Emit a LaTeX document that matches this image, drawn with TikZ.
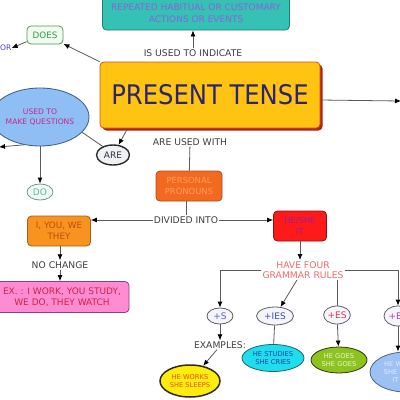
\documentclass[tikz,border=0pt]{standalone}
\usepackage{fontspec}
\setmainfont{DejaVu Sans}
\newfontfamily\titlefont{DejaVu Sans Condensed}
\usetikzlibrary{shapes.geometric,arrows.meta,shadows}
\definecolor{HabitTeal}{HTML}{35C1B3}
\definecolor{HabitEdge}{HTML}{1F7F76}
\definecolor{HabitText}{HTML}{8A62DE}
\definecolor{TenseYellow}{HTML}{FFC312}
\definecolor{TenseEdge}{HTML}{D2541C}
\definecolor{TenseShadow}{HTML}{B0201A}
\definecolor{TenseText}{HTML}{2D2470}
\definecolor{DoesFill}{HTML}{F2FBF2}
\definecolor{DoesEdge}{HTML}{4E9A56}
\definecolor{DoesText}{HTML}{2E9A44}
\definecolor{OrText}{HTML}{5A3CC0}
\definecolor{QBlue}{HTML}{8EBEF3}
\definecolor{QEdge}{HTML}{3C5A86}
\definecolor{QText}{HTML}{C4288E}
\definecolor{AreFill}{HTML}{EEF2F5}
\definecolor{AreEdge}{HTML}{2A2A2A}
\definecolor{AreText}{HTML}{30323C}
\definecolor{DoFill}{HTML}{F1FAF6}
\definecolor{DoEdge}{HTML}{6E9A8C}
\definecolor{DoText}{HTML}{5DB3A0}
\definecolor{LinkGray}{HTML}{3E3E3E}
\definecolor{LineGray}{HTML}{5A5A5A}
\definecolor{PronFill}{HTML}{F26A1F}
\definecolor{PronEdge}{HTML}{B5461A}
\definecolor{PronText}{HTML}{FF9B5E}
\definecolor{IyouFill}{HTML}{F7931E}
\definecolor{IyouEdge}{HTML}{A3601A}
\definecolor{IyouText}{HTML}{C24A12}
\definecolor{ExPink}{HTML}{FF8CD2}
\definecolor{ExEdge}{HTML}{8E3E86}
\definecolor{ExText}{HTML}{D0223E}
\definecolor{HeFill}{HTML}{FF1A1A}
\definecolor{HeEdge}{HTML}{8F1010}
\definecolor{HeText}{HTML}{9C1E8E}
\definecolor{RuleText}{HTML}{F06A6A}
\definecolor{RuleFill}{HTML}{F5F5F9}
\definecolor{RuleEdge}{HTML}{5E5E6A}
\definecolor{SText}{HTML}{5A60C4}
\definecolor{IesText}{HTML}{3E4CB0}
\definecolor{EsText}{HTML}{D23456}
\definecolor{EsbText}{HTML}{A444B6}
\definecolor{WorksFill}{HTML}{FFEC0F}
\definecolor{WorksEdge}{HTML}{2E2A10}
\definecolor{WorksText}{HTML}{E2521E}
\definecolor{StudFill}{HTML}{1FDDEC}
\definecolor{StudEdge}{HTML}{1E6470}
\definecolor{StudText}{HTML}{2242A4}
\definecolor{GoesFill}{HTML}{8DC31F}
\definecolor{GoesEdge}{HTML}{2E3410}
\definecolor{GoesText}{HTML}{EEF2D2}
\definecolor{WatchFill}{HTML}{9DC1F2}
\definecolor{WatchEdge}{HTML}{4E6284}
\definecolor{WatchText}{HTML}{E4E8FF}
\tikzset{
  linknode/.style={
    font=\fontsize{9.2}{10.6}\selectfont,text=LinkGray,
    align=center,inner sep=1pt
  },
  boxnode/.style={
    rounded corners=4pt,line width=0.8pt,inner sep=1pt,
    font=\fontsize{8.8}{11}\selectfont,align=center
  },
  ovnode/.style={
    ellipse,line width=0.8pt,inner sep=0pt,
    font=\fontsize{9}{10.5}\selectfont,align=center
  },
  rulenode/.style={
    ovnode,draw=RuleEdge,fill=RuleFill
  },
  smovnode/.style={
    ovnode,font=\fontsize{6.7}{8.2}\selectfont
  },
  link/.style={draw=LineGray,line width=0.8pt},
  linkarr/.style={link,-{Latex[length=6pt,width=5pt,black]}},
}
\begin{document}
\begin{tikzpicture}[x=1pt,y=-1pt]
  \useasboundingbox (0,0) rectangle (400,400);
  \clip (0,0) rectangle (400,400);
  \fill[white] (0,0) rectangle (400,400);
  % top of the map
  \node[boxnode,draw=HabitEdge,fill=HabitTeal,text=HabitText,font=\fontsize{9}{11.5}\selectfont,
        minimum width=187pt,minimum height=34pt] (habit) at (196,13) {REPEATED HABITUAL OR CUSTOMARY\\ACTIONS OR EVENTS};
  \node[linknode] (indicate) at (193,53) {IS USED TO INDICATE};
  \node[boxnode,draw=TenseEdge,fill=TenseYellow,text=TenseText,minimum width=220pt,minimum height=66pt,
        font=\titlefont\fontsize{27}{30}\selectfont,
        drop shadow={shadow xshift=2.5pt,shadow yshift=-2.5pt,fill=TenseShadow,opacity=1}] (tense) at (210,95) {PRESENT TENSE};
  \coordinate (rightend) at (401,101);
  % questions branch
  \node[boxnode,draw=DoesEdge,fill=DoesFill,text=DoesText,minimum width=36pt,minimum height=18pt] (does) at (45,35) {DOES};
  \node[linknode,text=OrText,font=\fontsize{7.6}{9}\selectfont,inner sep=0pt,anchor=west] (or) at (0,48) {OR};
  \node[ovnode,draw=QEdge,fill=QBlue,text=QText,font=\fontsize{7.6}{9.4}\selectfont,
        minimum width=98pt,minimum height=58pt] (questions) at (40,117) {USED TO\\MAKE QUESTIONS};
  \coordinate (qleft) at (-1,147);
  \node[ovnode,draw=AreEdge,fill=AreFill,text=AreText,line width=1.4pt,
        minimum width=33pt,minimum height=20pt] (are) at (113,155) {ARE};
  \node[ovnode,draw=DoEdge,fill=DoFill,text=DoText,minimum width=26pt,minimum height=16pt] (do) at (40,192) {DO};
  % pronouns branch
  \node[linknode] (usedwith) at (190,142) {ARE USED WITH};
  \node[boxnode,draw=PronEdge,fill=PronFill,text=PronText,font=\fontsize{8.4}{10.5}\selectfont,
        minimum width=66pt,minimum height=30pt] (pronouns) at (189,186) {PERSONAL\\PRONOUNS};
  \node[linknode] (divided) at (186,220) {DIVIDED INTO};
  \node[boxnode,draw=IyouEdge,fill=IyouFill,text=IyouText,minimum width=63pt,minimum height=30pt] (iyou) at (59,231) {I, YOU, WE\\THEY};
  \node[linknode] (nochange) at (60,265) {NO CHANGE};
  \node[boxnode,draw=ExEdge,fill=ExPink,text=ExText,font=\fontsize{9}{11.5}\selectfont,
        minimum width=134pt,minimum height=31pt] (ex) at (62,297) {EX. : I WORK, YOU STUDY,\\WE DO, THEY WATCH};
  \node[boxnode,draw=HeEdge,fill=HeFill,text=HeText,font=\fontsize{8.4}{10.5}\selectfont,
        minimum width=53pt,minimum height=30pt] (heshe) at (300,226) {HE/SHE\\IT};
  \node[linknode,text=RuleText] (rules) at (303,270) {HAVE FOUR\\GRAMMAR RULES};
  % the four rules
  \node[rulenode,text=SText,minimum width=26pt,minimum height=16pt] (s) at (220,316) {+S};
  \node[rulenode,text=IesText,minimum width=37pt,minimum height=18pt] (ies) at (275,316) {+IES};
  \node[rulenode,text=EsText,minimum width=26pt,minimum height=18pt] (es) at (337,315) {+ES};
  \node[rulenode,text=EsbText,minimum width=28pt,minimum height=20pt] (esb) at (398,316) {+ES};
  \node[linknode] (examples) at (220,345) {EXAMPLES:};
  \node[smovnode,draw=WorksEdge,fill=WorksFill,text=WorksText,line width=1.5pt,
        minimum width=60pt,minimum height=32pt] (works) at (190,381) {HE WORKS\\SHE SLEEPS};
  \node[smovnode,draw=StudEdge,fill=StudFill,text=StudText,minimum width=62pt,minimum height=27pt] (studies) at (273,358) {HE STUDIES\\SHE CRIES};
  \node[smovnode,draw=GoesEdge,fill=GoesFill,text=GoesText,minimum width=56pt,minimum height=26pt] (goes) at (339,360) {HE GOES\\SHE GOES};
  \node[smovnode,draw=WatchEdge,fill=WatchFill,text=WatchText,minimum width=72pt,minimum height=40pt] (watches) at (406,372) {HE WATCHES\\SHE WASHES\\IT FIXES};
  % connectors
  \draw[linkarr] (indicate.north) -- (indicate.north |- habit.south);
  \draw[linkarr] (tense.north west) -- (does);
  \draw[linkarr] (does.200) -- (or.east);
  \draw[linkarr] ([yshift=-5pt]tense.east) -- (rightend);
  \draw[linkarr] ([xshift=28pt]tense.south west) -- (are);
  \draw[link] (are.140) -- (questions.-20);
  \draw[linkarr] (questions) -- (do);
  \draw[linkarr] (questions.240) -- (qleft);
  \draw[link] (usedwith) -- (pronouns);
  \draw[link] (pronouns.south -| divided.north) -- (divided.north);
  \draw[linkarr] (divided.west) -- (divided.west -| iyou.east);
  \draw[linkarr] (divided.east) -- (divided.east -| heshe.west);
  \draw[linkarr] (iyou.south -| nochange.north) -- (nochange.north);
  \draw[linkarr] (nochange.south) -- (nochange.south |- ex.north);
  \draw[linkarr] (heshe.south) -- (heshe.south |- rules.north);
  \draw[linkarr] (rules.west) -| (s.north);
  \draw[linkarr] ([xshift=-6pt]rules.south) -- (ies);
  \draw[link] (es.north |- rules.south) -- (es.north);
  \draw[linkarr] (rules.east) -| (esb.north);
  \draw[linkarr] (s) -- (examples);
  \draw[linkarr] ([xshift=-3pt]examples.south) -- (works);
  \draw[link] (ies) -- (studies);
  \draw[linkarr] (es) -- (goes);
  \draw[linkarr] (esb) -- (esb |- watches.north);
\end{tikzpicture}
\end{document}
